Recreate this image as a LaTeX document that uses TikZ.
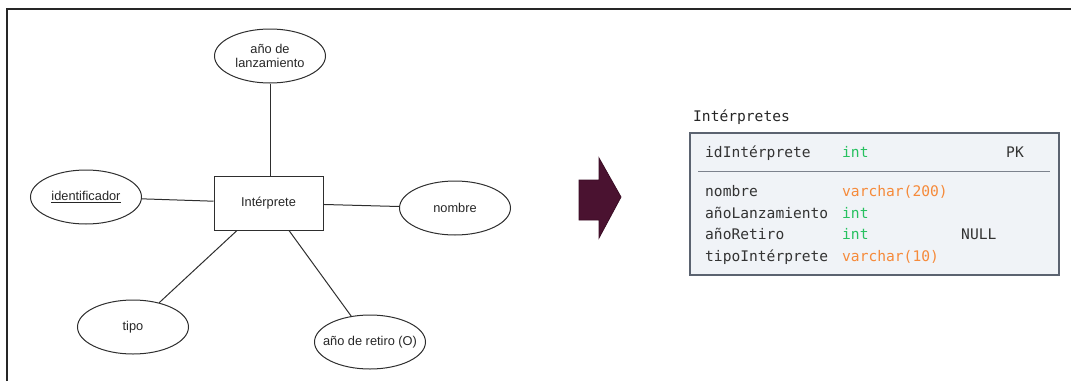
\documentclass[tikz,border=0pt]{standalone}
\usepackage{fontspec}
\setmainfont{Liberation Sans}
\newfontfamily\monofont{DejaVu Sans Mono}
\usetikzlibrary{shapes.geometric}
\definecolor{erline}{HTML}{2E2E2E}
\definecolor{ertext}{HTML}{262626}
\definecolor{arrowfill}{HTML}{4A1230}
\definecolor{arrowdraw}{HTML}{3A0C24}
\definecolor{tblfill}{HTML}{F0F3F7}
\definecolor{tbldraw}{HTML}{5B6370}
\definecolor{tbltext}{HTML}{333333}
\definecolor{typegreen}{HTML}{27C160}
\definecolor{typeorange}{HTML}{F68A3A}
\begin{document}
\begin{tikzpicture}[x=1pt,y=-1pt,
  attr/.style={ellipse, draw=erline, line width=1pt, minimum width=111pt, minimum height=54pt,
    inner sep=0pt, font=\fontsize{12.8}{14.8}\selectfont, text=ertext, align=center},
  entity/.style={rectangle, draw=erline, line width=1pt, minimum width=109pt, minimum height=54pt,
    inner sep=0pt, font=\fontsize{12.8}{14.8}\selectfont, text=ertext},
  conn/.style={draw=erline, line width=1pt},
  mono/.style={anchor=base west, inner sep=0pt, font=\monofont\fontsize{14.6}{16.6}\selectfont, text=tbltext},
  green/.style={mono, text=typegreen},
  orange/.style={mono, text=typeorange}]
\useasboundingbox (0,0) rectangle (1071,381);
% frame
\draw[line width=1.6pt, draw=black!85] (7,381) -- (7,9) -- (1071,9);

% ER diagram
\node[entity] (ent) at (268.5,203) {Intérprete};
\node[attr] (lanz) at (270,56) {año de\\lanzamiento};
\node[attr] (ident) at (86,197) {\underline{identificador}};
\node[attr] (nom) at (455,208) {nombre};
\node[attr] (tipo) at (133,327) {tipo};
\node[attr, inner xsep=-9.5pt] (ret) at (370,342) {año de retiro (O)};

\draw[conn] (lanz) -- (ent.north -| lanz.south);
\draw[conn] (ident) -- (ent);
\draw[conn] (ent) -- (nom);
\draw[conn] ([xshift=-31.5pt]ent.south) -- (tipo);
\draw[conn] ([xshift=20.5pt]ent.south) -- (ret);

% block arrow
\fill[arrowfill, draw=arrowdraw, line width=0.8pt]
  (579,180) -- (599,180) -- (599,158) -- (621,197) -- (599,238) -- (599,220) -- (579,220) -- cycle;

% table
\node[mono, text=black!85] (title) at (693,121) {Intérpretes};
\node[rectangle, draw=tbldraw, fill=tblfill, line width=2pt, minimum width=369pt, minimum height=142pt,
  inner sep=0pt] (tbl) at (874.5,204) {};
\coordinate (sepl) at (698,171);
\coordinate (sepr) at (1050,171);
\draw[draw=tbldraw!80, line width=1pt] (sepl) -- (sepr);

\node[mono] (c1) at (705,157) {idIntérprete};
\node[green] (t1) at (842,157) {int};
\node[mono] (k1) at (1006,157) {PK};

\node[mono] (c2) at (705,196.5) {nombre};
\node[orange] (t2) at (842,196.5) {varchar(200)};

\node[mono] (c3) at (705,218) {añoLanzamiento};
\node[green] (t3) at (842,218) {int};

\node[mono] (c4) at (705,239.5) {añoRetiro};
\node[green] (t4) at (842,239.5) {int};
\node[mono] (n4) at (961,239.5) {NULL};

\node[mono] (c5) at (705,261) {tipoIntérprete};
\node[orange] (t5) at (842,261) {varchar(10)};
\end{tikzpicture}
\end{document}
